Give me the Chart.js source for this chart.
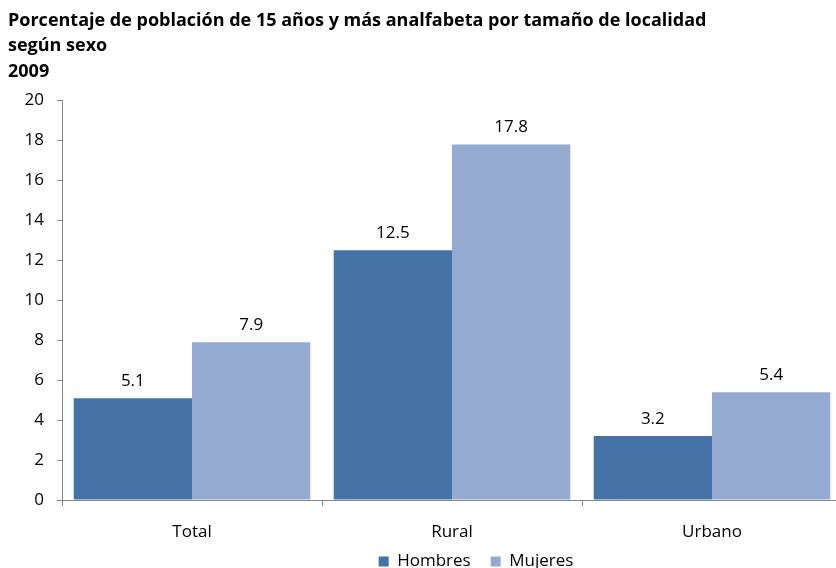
<!DOCTYPE html>
<html>
<head>
<meta charset="utf-8">
<script src="https://cdn.jsdelivr.net/npm/chart.js@4/dist/chart.umd.min.js"></script>
<style>
  html, body { margin: 0; padding: 0; background: #fff; overflow: hidden; }
  #wrap { width: 842px; height: 568px; position: relative; }
</style>
</head>
<body>
<div id="wrap"><canvas id="analfabeta-chart"></canvas></div>
<script>
  'use strict';
  const categories = ['Total', 'Rural', 'Urbano'];
  const hombres = [5.1, 12.5, 3.2];
  const mujeres = [7.9, 17.8, 5.4];
  const yTicks = [0, 2, 4, 6, 8, 10, 12, 14, 16, 18, 20];
  const titleLines = [
    'Porcentaje de población de 15 años y más analfabeta por tamaño de localidad',
    'según sexo',
    '2009'
  ];

  const fontFamily = "'Open Sans', Lato, sans-serif";
  const axisGrey = '#868686';

  // value labels above each bar
  const barLabels = {
    id: 'barLabels',
    afterDatasetsDraw: function (chart) {
      const ctx = chart.ctx;
      ctx.save();
      ctx.font = '17px ' + fontFamily;
      ctx.fillStyle = '#000';
      ctx.textAlign = 'center';
      ctx.textBaseline = 'middle';
      chart.data.datasets.forEach(function (ds, i) {
        chart.getDatasetMeta(i).data.forEach(function (bar, j) {
          ctx.fillText(ds.data[j].toFixed(1), bar.x, bar.y - 17);
        });
      });
      ctx.restore();
    }
  };

  // legend: take little room in the layout, then put it back full size
  // just under the category labels, centred under the plot area like Excel
  const legendPlace = {
    id: 'legendPlace',
    beforeLayout: function (chart) {
      const lg = chart.legend;
      if (lg && !lg._squeezed) {
        const origFit = lg.fit;
        lg.fit = function () {
          origFit.call(this);
          this._natH = this.height;
          this.height = 9.6;
        };
        lg._squeezed = true;
      }
    },
    afterLayout: function (chart) {
      const area = chart.chartArea;
      const lg = chart.legend;
      const dx = (area.left + area.right) / 2 + 24 - (lg.left + lg.right) / 2;
      lg.left += dx;
      lg.right += dx;
      lg.top = area.bottom + 33;
      lg.height = lg._natH;
      lg.bottom = lg.top + lg._natH;
    }
  };

  new Chart(document.getElementById('analfabeta-chart'), {
    type: 'bar',
    data: {
      labels: categories,
      datasets: [{
        label: 'Hombres',
        data: hombres,
        backgroundColor: '#4573A7',
        borderWidth: 0,
        barPercentage: 1,
        categoryPercentage: 0.91
      }, {
        label: 'Mujeres',
        data: mujeres,
        backgroundColor: '#95AAD1',
        borderWidth: 0,
        barPercentage: 1,
        categoryPercentage: 0.91
      }]
    },
    options: {
      responsive: true,
      maintainAspectRatio: false,
      animation: false,
      layout: {
        padding: { left: 8, right: 0, top: 0, bottom: 0 }
      },
      scales: {
        y: {
          min: 0,
          max: 20,
          afterFit: function (scale) { scale.width = 54; },
          afterBuildTicks: function (scale) {
            scale.ticks = yTicks.map(function (v) { return { value: v }; });
          },
          border: { display: true, color: axisGrey, width: 1 },
          grid: {
            drawOnChartArea: false,
            drawTicks: true,
            tickLength: 5,
            color: axisGrey
          },
          ticks: {
            color: '#000',
            padding: 13,
            font: { family: fontFamily, size: 17 }
          }
        },
        x: {
          border: { display: true, color: axisGrey, width: 1 },
          grid: {
            offset: true,
            drawOnChartArea: false,
            drawTicks: true,
            tickLength: 6,
            color: axisGrey
          },
          ticks: {
            color: '#000',
            padding: 16,
            font: { family: fontFamily, size: 17 }
          }
        }
      },
      plugins: {
        title: {
          display: true,
          text: titleLines,
          align: 'start',
          color: '#000',
          padding: { top: 8, bottom: 16 },
          font: { family: fontFamily, size: 18, weight: 'bold', lineHeight: '25.5px' }
        },
        legend: {
          display: true,
          position: 'bottom',
          labels: {
            color: '#000',
            boxWidth: 10,
            boxHeight: 10,
            padding: 20,
            font: { family: fontFamily, size: 17 }
          }
        },
        tooltip: { enabled: false }
      }
    },
    plugins: [barLabels, legendPlace]
  });
</script>
</body>
</html>
